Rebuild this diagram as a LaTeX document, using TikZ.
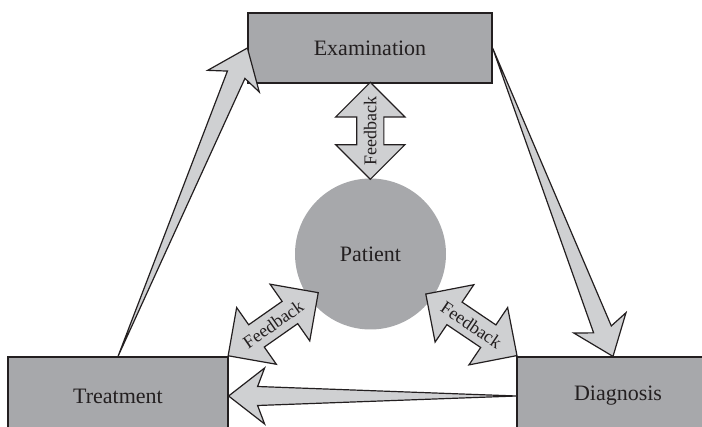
\documentclass[tikz,border=0pt]{standalone}
\usepackage{fontspec}
\setmainfont{Liberation Serif}
\usetikzlibrary{calc,shapes.arrows}
\definecolor{boxgray}{HTML}{A7A8AB}
\definecolor{arrowgray}{HTML}{CFD0D2}
\definecolor{ink}{HTML}{231F20}
% tapered arrow: zero width at the tail (#1), swept head at the tip (#2)
\newcommand\taperarrow[2]{%
  \path ($(#2)!14.5pt!(#1)$) coordinate (tj) ($(#2)!18pt!(#1)$) coordinate (tk);
  \draw[taper] (#1) -- ($(tj)!4.75pt!90:(#2)$) -- ($(tk)!14pt!90:(#2)$) -- (#2)
    -- ($(tk)!14pt!-90:(#2)$) -- ($(tj)!4.75pt!-90:(#2)$) -- cycle;}
\begin{document}
\begin{tikzpicture}[x=0.5pt,y=-0.5pt,
  stage/.style={draw=ink, line width=0.6pt, fill=boxgray, text=ink,
    font=\fontsize{11}{13}\selectfont, inner sep=0pt},
  patientnode/.style={circle, fill=boxgray, minimum size=75.5pt, inner sep=0pt,
    text=ink, font=\fontsize{11}{13}\selectfont},
  taper/.style={draw=ink, fill=arrowgray, line width=0.6pt, line join=miter},
  fbarrow/.style={double arrow, draw=ink, fill=arrowgray, line width=0.6pt,
    inner xsep=0pt, inner ysep=6.5pt, double arrow head extend=10.5pt},
  fblabel/.style={font=\fontsize{9}{11}\selectfont, text=ink, inner sep=0pt}]
\clip (0,0) rectangle (702,427);

% the three stages and the patient
\node[stage, minimum width=122pt, minimum height=35pt] (exam) at (370,48) {Examination};
\node[stage, minimum width=110pt, minimum height=39pt] (treat) at (118,396) {Treatment};
\node[stage, minimum width=101pt, minimum height=39pt] (diag) at (618,396) {Diagnosis};
\node[patientnode] (patient) at (370.5,254) {Patient};

% cycle arrows
\coordinate (dtip) at ([xshift=-2.5pt]diag.north);
\taperarrow{treat.north}{exam.west}
\taperarrow{exam.east}{dtip}
\taperarrow{diag.west}{treat.east}

% feedback links to the patient
\node[fbarrow, minimum height=48.5pt, rotate=90] (fbtop)
  at ($(exam.south)!0.5!(patient.north)$) {};
\node[fblabel, rotate=90] at (fbtop.center) {Feedback};

\node[fbarrow, minimum height=55pt, rotate=35] (fbleft)
  at ($(treat.north east)!27.5pt!(patient.center)$) {};
\node[fblabel, rotate=35] at (fbleft.center) {Feedback};

\node[fbarrow, minimum height=55pt, rotate=-34] (fbright)
  at ($(diag.north west)!27.5pt!(patient.center)$) {};
\node[fblabel, rotate=-34] at (fbright.center) {Feedback};
\end{tikzpicture}
\end{document}
